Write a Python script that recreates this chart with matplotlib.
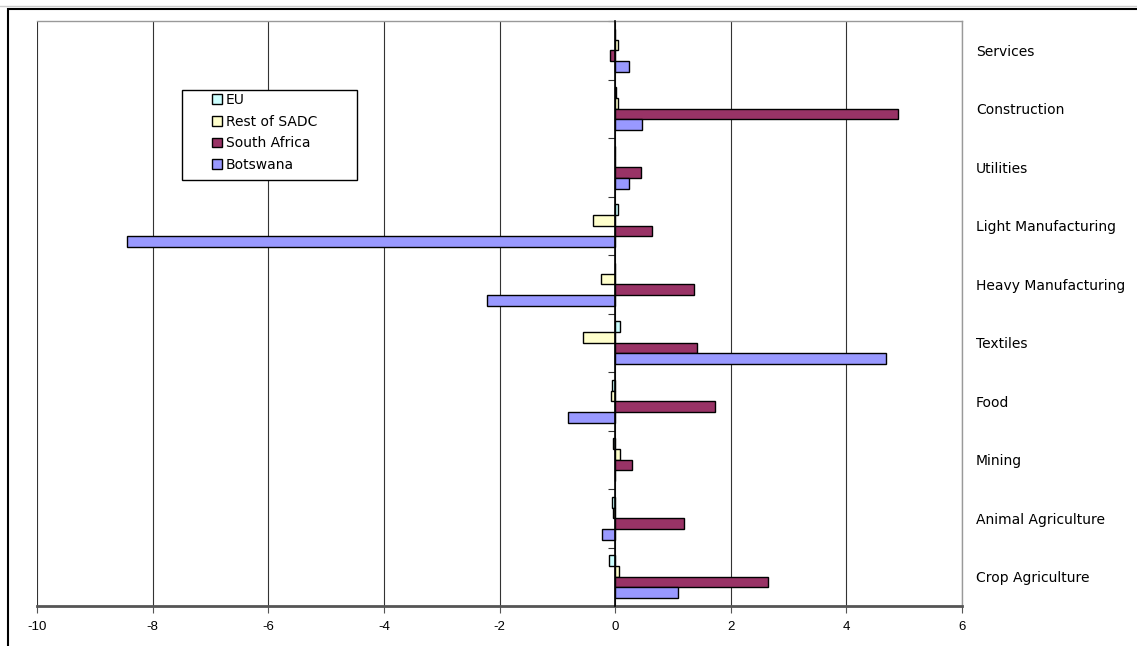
import matplotlib
matplotlib.use("Agg")
import matplotlib.pyplot as plt
from matplotlib.patches import Patch, Rectangle
from matplotlib.legend_handler import HandlerPatch
from matplotlib.ticker import MultipleLocator, FixedLocator
import numpy as np

plt.rcParams['font.family'] = ['Liberation Sans', 'DejaVu Sans']
plt.rcParams['axes.unicode_minus'] = False

# Sectors, bottom to top
sectors = ["Crop Agriculture", "Animal Agriculture", "Mining", "Food", "Textiles",
           "Heavy Manufacturing", "Light Manufacturing", "Utilities", "Construction", "Services"]

# Percentage changes by region
eu           = [-0.10, -0.06, -0.03, -0.06,  0.08,  0.00,  0.05, -0.01, 0.01,  0.00]
rest_of_sadc = [ 0.06, -0.03,  0.08, -0.08, -0.55, -0.24, -0.375, -0.01, 0.05,  0.05]
south_africa = [ 2.64,  1.19,  0.30,  1.735, 1.42,  1.36,  0.64,  0.44, 4.90, -0.09]
botswana     = [ 1.08, -0.23,  0.00, -0.81,  4.69, -2.21, -8.45,  0.235, 0.46, 0.235]

series = [("EU", eu, "#CCFFFF"),
          ("Rest of SADC", rest_of_sadc, "#FFFFCC"),
          ("South Africa", south_africa, "#993366"),
          ("Botswana", botswana, "#9999FF")]

W, H = 1137, 646
fig = plt.figure(figsize=(W / 100, H / 100), dpi=100)
ax = fig.add_axes([37 / W, 1 - 606 / H, (962 - 37) / W, (606 - 21) / H])

y = np.arange(len(sectors))
h = 0.183
offsets = [1.5 * h, 0.5 * h, -0.5 * h, -1.5 * h]
for (name, vals, col), off in zip(series, offsets):
    ax.barh(y + off, vals, height=h, color=col, edgecolor="black", linewidth=1.0,
            label=name, zorder=3)

ax.set_xlim(-10, 6)
ax.set_ylim(-0.5, len(sectors) - 0.5)

# x axis: ticks every 2 with vertical gridlines
ax.xaxis.set_major_locator(MultipleLocator(2))
ax.grid(axis="x", color="#333333", linewidth=0.8, zorder=0)
ax.tick_params(axis="x", direction="out", length=5, width=0.8, color="#555555",
               labelsize=9.5, pad=6)

# category axis at zero, labels on the right side
ax.spines["left"].set_position(("data", 0))
ax.spines["left"].set_color("black")
ax.spines["left"].set_linewidth(1.2)
ax.spines["left"].set_zorder(4)
ax.set_yticks(y)
ax.set_yticklabels(sectors, family="DejaVu Sans")
ax.yaxis.set_minor_locator(FixedLocator(np.arange(-0.5, len(sectors), 1.0)))
ax.tick_params(axis="y", which="major", left=False, right=False, labelleft=False,
               labelright=True, length=0, labelsize=10, pad=10)
ax.tick_params(axis="y", which="minor", left=True, right=False, length=5,
               width=0.8, direction="out", color="#333333")

for s in ("top", "right"):
    ax.spines[s].set_color("#999999")
    ax.spines[s].set_linewidth(1.0)
ax.spines["bottom"].set_color("#555555")
ax.spines["bottom"].set_linewidth(2.0)

# legend with small square keys inside a plain black box
handles = [Patch(facecolor=c, edgecolor="black", linewidth=1.0, label=n) for n, _, c in series]
leg = fig.legend(handles=handles, loc="upper left",
                 bbox_to_anchor=(212 / W, 1 - 93 / H), bbox_transform=fig.transFigure,
                 prop={"family": "DejaVu Sans", "size": 10}, frameon=False,
                 handlelength=0.7, handleheight=0.7, handletextpad=0.3,
                 labelspacing=0.55, borderpad=0, borderaxespad=0)
fig.patches.append(Rectangle((182 / W, 1 - 180 / H), (357 - 182) / W, (180 - 90) / H,
                             transform=fig.transFigure, facecolor="white",
                             edgecolor="black", linewidth=1.0, zorder=1))
leg.set_zorder(5)

# outer chart frame
fig.patches.append(Rectangle((8 / W, -0.05), 1.2, 1 - 9 / H + 0.05, transform=fig.transFigure,
                             fill=False, edgecolor="black", linewidth=1.5, zorder=0))
fig.lines.append(plt.Line2D([0, 1], [1 - 6 / H, 1 - 6 / H], transform=fig.transFigure,
                            color="#cccccc", linewidth=1.0))

fig.savefig("out.png", dpi=100)
